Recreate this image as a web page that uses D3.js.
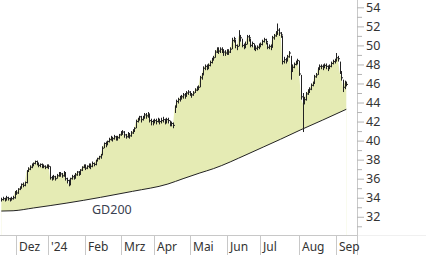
<!DOCTYPE html>
<html>
<head>
<meta charset="utf-8">
<script src="https://cdn.jsdelivr.net/npm/d3@7"></script>
<style>
  body { margin: 0; background: #fff; }
  svg { display: block; }
  text { font-family: "Noto Sans", sans-serif; }
</style>
</head>
<body>
<div id="chart"></div>
<script>
// daily bars, first trading day 2023-11-20
var startDay = "2023-11-20";
var holidays = ["2023-12-25", "2023-12-26", "2024-01-01", "2024-03-29", "2024-04-01", "2024-05-01"];

var close = [
  33.8,33.9,33.8,34.0,33.9,33.8,33.9,34.0,34.6,34.5,
  34.9,35.0,35.4,35.3,35.6,36.8,37.0,37.2,37.4,37.6,
  37.8,37.6,37.4,37.5,37.3,37.3,37.2,37.3,37.3,36.1,
  36.0,36.2,36.0,36.3,36.4,36.5,36.3,36.6,36.0,35.8,
  35.4,36.0,36.2,36.1,36.4,36.7,36.5,36.9,37.2,37.4,
  37.1,37.3,37.4,37.3,37.6,37.5,37.9,38.1,38.3,38.5,
  39.2,39.7,39.6,39.9,40.1,40.3,40.2,40.4,40.3,40.3,
  40.6,40.8,40.9,40.6,40.4,40.7,40.5,40.8,41.0,41.3,
  42.0,42.3,42.5,42.2,42.4,42.7,42.6,42.8,42.1,42.0,
  41.9,42.1,42.0,42.2,42.0,42.1,42.2,42.0,42.2,42.1,
  41.7,41.8,41.6,43.5,44.1,44.3,44.5,44.6,44.8,44.7,
  45.0,45.1,44.9,44.8,45.0,45.3,45.5,45.6,46.6,46.9,
  47.6,47.8,47.7,47.9,48.2,48.5,48.7,49.3,49.6,49.4,
  49.6,49.5,49.3,49.2,49.4,49.3,49.6,50.5,50.7,50.0,
  49.9,51.0,50.8,50.0,49.9,50.1,50.9,50.8,50.0,50.2,
  49.8,49.7,49.8,50.0,50.1,50.4,50.6,50.4,49.8,49.9,
  49.8,50.8,51.0,51.3,51.6,51.3,51.1,48.3,48.5,48.4,
  48.8,49.2,47.3,47.7,48.0,48.2,48.4,47.0,44.6,43.9,
  44.3,44.9,45.2,45.4,45.8,46.0,46.7,46.9,47.5,47.8,
  47.8,47.7,47.9,47.8,47.6,47.8,48.1,48.3,48.4,48.7,
  48.6,47.2,46.6,45.6,46.1,45.9
];

var high = [
  34.0,34.1,34.0,34.2,34.1,34.0,34.1,34.2,34.7,34.8,
  35.0,35.2,35.5,35.6,35.7,36.9,37.2,37.4,37.6,37.7,
  37.9,37.9,37.7,37.6,37.6,37.5,37.4,37.5,37.5,37.3,
  36.3,36.4,36.3,36.5,36.7,36.7,36.6,36.8,36.7,36.1,
  35.9,36.1,36.4,36.4,36.6,36.8,36.8,37.0,37.3,37.5,
  37.5,37.4,37.6,37.6,37.8,37.7,38.0,38.2,38.4,38.6,
  39.4,39.8,39.9,40.0,40.3,40.5,40.4,40.6,40.5,40.5,
  40.7,41.0,41.1,41.0,40.7,40.9,40.8,41.0,41.2,41.4,
  42.2,42.4,42.6,42.6,42.6,42.9,42.9,43.0,42.8,42.3,
  42.2,42.3,42.3,42.4,42.3,42.4,42.5,42.3,42.4,42.4,
  42.1,42.0,41.9,43.7,44.3,44.5,44.7,44.8,45.0,45.0,
  45.2,45.3,45.2,45.0,45.2,45.5,45.7,45.8,46.8,47.1,
  47.8,48.0,48.0,48.1,48.4,48.7,48.9,49.5,49.8,49.8,
  49.8,49.8,49.6,49.5,49.6,49.6,49.8,50.8,50.9,50.6,
  50.1,51.6,51.1,50.7,50.2,50.4,51.1,51.1,50.7,50.4,
  50.2,50.0,50.0,50.2,50.3,50.6,50.8,50.7,50.3,50.1,
  50.1,51.0,51.2,51.5,52.3,51.8,51.4,51.0,48.8,48.7,
  49.0,49.4,48.9,48.0,48.2,48.4,48.6,48.4,46.9,45.0,
  44.6,45.1,45.4,45.6,46.0,46.2,46.9,47.1,47.7,48.0,
  48.0,48.0,48.1,48.1,47.9,48.0,48.3,48.5,48.6,49.2,
  48.9,48.3,47.3,46.4,46.3,46.2
];

var low = [
  33.6,33.7,33.6,33.7,33.7,33.6,33.7,33.8,33.9,34.3,
  34.4,34.8,35.0,35.1,35.2,35.5,36.7,36.9,37.1,37.3,
  37.5,37.4,37.2,37.2,37.1,37.1,37.0,37.1,37.0,35.9,
  35.8,35.9,35.8,36.0,36.2,36.2,36.1,36.2,35.8,35.5,
  35.2,35.3,35.9,35.9,36.0,36.3,36.3,36.4,36.8,37.1,
  36.9,37.0,37.1,37.0,37.2,37.3,37.4,37.8,38.0,38.1,
  38.5,39.2,39.3,39.5,39.8,40.0,39.9,40.1,40.0,40.0,
  40.2,40.5,40.6,40.3,40.2,40.3,40.2,40.4,40.7,40.9,
  41.3,41.9,42.1,41.9,42.1,42.3,42.3,42.4,41.9,41.6,
  41.6,41.8,41.7,41.9,41.7,41.8,41.9,41.7,41.8,41.8,
  41.5,41.5,41.3,42.9,43.5,43.9,44.1,44.3,44.4,44.4,
  44.6,44.8,44.7,44.5,44.7,45.0,45.2,45.3,45.6,46.4,
  46.9,47.4,47.4,47.5,47.8,48.1,48.4,48.7,49.2,49.1,
  49.2,49.2,48.9,48.9,49.0,49.0,49.2,49.6,50.3,49.7,
  49.5,49.9,50.4,49.8,49.6,49.7,50.1,50.4,49.8,49.8,
  49.5,49.4,49.5,49.6,49.8,50.0,50.3,50.1,49.6,49.6,
  49.5,49.8,50.6,50.9,51.1,51.0,50.8,48.0,48.1,48.1,
  48.3,48.7,46.4,47.2,47.6,47.9,48.0,46.8,44.3,40.9,
  43.8,44.2,44.8,45.0,45.3,45.7,46.0,46.6,46.9,47.4,
  47.5,47.4,47.6,47.5,47.3,47.5,47.7,48.0,48.1,48.3,
  48.3,47.0,46.3,45.1,45.4,45.7
];

// 200-day average, read at a few dates
var gdDates = ["2023-11-20", "2023-11-29", "2023-12-15", "2024-01-17", "2024-02-14", "2024-03-12",
               "2024-04-12", "2024-04-25", "2024-05-10", "2024-05-22", "2024-06-19", "2024-07-03",
               "2024-07-17", "2024-08-02", "2024-08-21", "2024-09-10"];
var gdValues = [32.60, 32.63, 32.92, 33.44, 34.04, 34.67,
                35.44, 36.00, 36.60, 37.05, 38.55, 39.35,
                40.15, 41.14, 42.16, 43.29];

var monthStarts = ["2023-12-01", "2024-01-02", "2024-02-01", "2024-03-01", "2024-04-02",
                   "2024-05-02", "2024-06-03", "2024-07-01", "2024-08-01", "2024-09-02"];
var monthLabels = ["Dez", "'24", "Feb", "Mrz", "Apr", "Mai", "Jun", "Jul", "Aug", "Sep"];

var majorTicks = [32, 34, 36, 38, 40, 42, 44, 46, 48, 50, 52, 54];
var minorTicks = [31, 33, 35, 37, 39, 41, 43, 45, 47, 49, 51, 53];

// trading calendar
var fmt = d3.timeFormat("%Y-%m-%d");
var dates = [];
var day = d3.timeParse("%Y-%m-%d")(startDay);
while (dates.length < close.length) {
  var s = fmt(day);
  if (day.getDay() !== 0 && day.getDay() !== 6 && holidays.indexOf(s) < 0) dates.push(s);
  day = d3.timeDay.offset(day, 1);
}

var width = 426,
    height = 255,
    plotRight = 357,
    axisY = 235;

var x = d3.scaleLinear().domain([0, close.length - 1]).range([1.3, 346.3]);
var xr = x.copy().interpolate(d3.interpolateRound);
var y = d3.scaleLinear().domain([30, 55]).range([235.8, -2.2]);

var svg = d3.select("#chart")
            .append("svg")
            .attr("width", width)
            .attr("height", height);

var gdPts = gdDates.map((d, i) => ({i: dates.indexOf(d), v: gdValues[i]}));

// price fill down to the axis, then white below the GD200 curve
svg.append("path")
   .attr("d", d3.area()
                .x((d, i) => x(i))
                .y0(axisY)
                .y1((d) => y(d))(close))
   .style("fill", "#e5ebb4");

svg.append("path")
   .attr("d", d3.area()
                .curve(d3.curveMonotoneX)
                .x((d) => x(d.i))
                .y0(axisY + 1)
                .y1((d) => y(d.v))(gdPts))
   .style("fill", "#fff");

svg.append("path")
   .attr("d", d3.line()
                .curve(d3.curveMonotoneX)
                .x((d) => x(d.i))
                .y((d) => y(d.v))(gdPts))
   .style("fill", "none")
   .style("stroke", "#222")
   .style("stroke-width", 1);

svg.append("text")
   .attr("x", 92)
   .attr("y", 214)
   .style("font-size", "12.5px")
   .style("fill", "#3a4150")
   .text("GD200");

// bars
var bars = svg.append("g")
              .style("stroke", "#222")
              .style("stroke-width", 1);

bars.selectAll(".hl")
    .data(close)
    .enter()
    .append("line")
    .attr("class", "hl")
    .attr("x1", (d, i) => Math.round(x(i)) + 0.5)
    .attr("x2", (d, i) => Math.round(x(i)) + 0.5)
    .attr("y1", (d, i) => y(high[i]))
    .attr("y2", (d, i) => y(low[i]));

bars.selectAll(".cl")
    .data(close)
    .enter()
    .append("line")
    .attr("class", "cl")
    .attr("x1", (d, i) => Math.round(x(i)) + 0.5)
    .attr("x2", (d, i) => Math.round(x(i)) + 2)
    .attr("y1", (d) => y(d))
    .attr("y2", (d) => y(d));

// frame lines
svg.append("line")
   .attr("x1", 0).attr("x2", plotRight)
   .attr("y1", axisY + 0.5).attr("y2", axisY + 0.5)
   .style("stroke", "#c8c8c8");
svg.append("line")
   .attr("x1", plotRight).attr("x2", width)
   .attr("y1", axisY + 0.5).attr("y2", axisY + 0.5)
   .style("stroke", "#f0f0f0");
svg.append("line")
   .attr("x1", plotRight + 0.5).attr("x2", plotRight + 0.5)
   .attr("y1", 0).attr("y2", height)
   .style("stroke", "#c8c8c8");

// y axis
var yMinor = svg.append("g")
                .attr("transform", `translate(${plotRight},0)`)
                .call(d3.axisRight(y).tickValues(minorTicks).tickSize(5).tickFormat(""));
var yMajor = svg.append("g")
                .attr("transform", `translate(${plotRight},0)`)
                .call(d3.axisRight(y).tickValues(majorTicks).tickSize(7).tickPadding(2));

[yMinor, yMajor].forEach((g) => {
  g.select(".domain").remove();
  g.selectAll("line").style("stroke", "#b4b4b4");
});
yMajor.selectAll("text")
      .style("font-family", "'Noto Sans', sans-serif")
      .style("font-size", "12.5px")
      .style("fill", "#333");

// x axis
var monthIdx = monthStarts.map((d) => dates.indexOf(d));
var xAxis = svg.append("g")
               .attr("transform", `translate(0,${axisY})`)
               .call(d3.axisBottom(xr)
                       .tickValues(monthIdx)
                       .tickSize(20)
                       .tickPadding(0)
                       .tickFormat((d, i) => monthLabels[i]));

xAxis.select(".domain").remove();
xAxis.selectAll("line").style("stroke", "#c8c8c8");
xAxis.selectAll("text")
     .attr("x", 2.5)
     .attr("y", 16)
     .attr("dy", 0)
     .attr("text-anchor", "start")
     .style("font-family", "'Noto Sans', sans-serif")
     .style("font-size", "12px")
     .style("fill", "#333");
</script>
</body>
</html>
